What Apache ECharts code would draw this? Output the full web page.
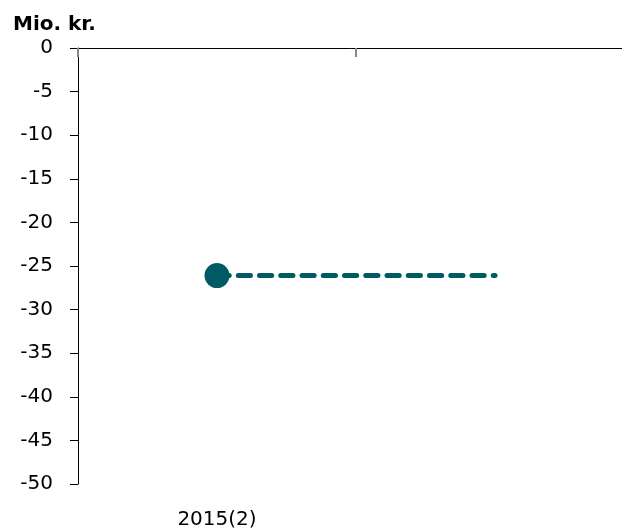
<!DOCTYPE html>
<html>
<head>
<meta charset="utf-8">
<script src="https://cdn.jsdelivr.net/npm/echarts@6/dist/echarts.min.js"></script>
<style>
html,body{margin:0;padding:0;background:#fff;}
#chart{width:622px;height:531px;}
</style>
</head>
<body>
<div id="chart"></div>
<script>
const categories = ['2015(2)', ''];
const seriesValues = [-26.1, -26.1];
const yTicks = { min: -50, max: 0, interval: 5 };
const unitLabel = 'Mio. kr.';

const FONT = 'DejaVu Sans';
const COLOR = '#005a63';

const chart = echarts.init(document.getElementById('chart'), null, { renderer: 'canvas' });
chart.setOption({
  animation: false,
  backgroundColor: '#ffffff',
  title: {
    text: unitLabel,
    left: 8, top: 10,
    textStyle: { fontFamily: FONT, fontSize: 20, fontWeight: 'bold', color: '#000' }
  },
  grid: { left: 78, top: 48, width: 556, height: 436, containLabel: false, outerBoundsMode: 'none' },
  xAxis: [
    {
      type: 'category', position: 'top', data: categories,
      axisLine: { onZero: false, lineStyle: { color: '#000', width: 1 } },
      axisTick: { show: true, inside: true, length: 9, lineStyle: { color: '#888', width: 2 } },
      axisLabel: { show: false },
      splitLine: { show: false }
    },
    {
      type: 'category', position: 'bottom', data: categories,
      axisLine: { show: false },
      axisTick: { show: false },
      axisLabel: { show: true, margin: 26, fontFamily: FONT, fontSize: 20, color: '#000' },
      splitLine: { show: false }
    }
  ],
  yAxis: {
    type: 'value', min: yTicks.min, max: yTicks.max, interval: yTicks.interval,
    axisLine: { show: true, onZero: false, lineStyle: { color: '#000', width: 1 } },
    axisTick: { show: true, inside: false, length: 8, lineStyle: { color: '#000', width: 1 } },
    axisLabel: { margin: 25, fontFamily: FONT, fontSize: 20, color: '#000' },
    splitLine: { show: false }
  },
  series: [
    {
      type: 'line', xAxisIndex: 0,
      data: seriesValues.map((v, i) => i === 0
        ? { value: v, symbol: 'circle', symbolSize: 25 }
        : { value: v, symbol: 'none' }),
      showSymbol: true,
      z: 3,
      itemStyle: { color: COLOR },
      lineStyle: { color: COLOR, width: 5, type: [12.2, 9.05], cap: 'round' }
    }
  ]
});
</script>
</body>
</html>
